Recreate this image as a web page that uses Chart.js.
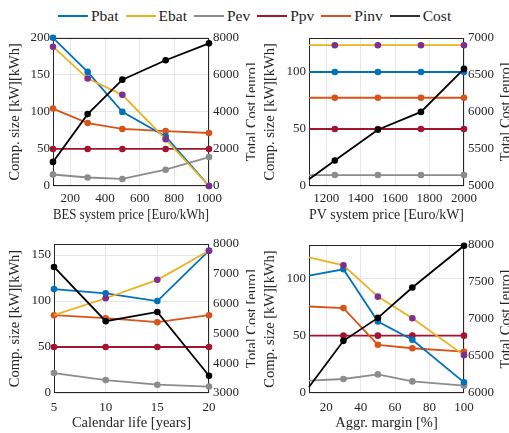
<!DOCTYPE html>
<html><head><meta charset="utf-8">
<script src="https://cdn.jsdelivr.net/npm/chart.js@4.4.0/dist/chart.umd.min.js"></script>
<style>
body{margin:0;width:509px;height:433px;background:#fff;position:relative;overflow:hidden;font-family:"Liberation Serif",serif}
canvas{position:absolute}
#legend{position:absolute;top:6px;left:58px;display:flex;align-items:center;font-size:15.5px;color:#222;white-space:nowrap;height:20px}
#legend .it{display:flex;align-items:center;margin-right:7px}
#legend .ln{display:inline-block;width:30px;height:2px;margin-right:3px}
</style></head>
<body>
<div id="legend"></div>
<canvas id="c1" width="255" height="204" style="left:0;top:26px"></canvas>
<canvas id="c2" width="254" height="204" style="left:255px;top:26px"></canvas>
<canvas id="c3" width="255" height="201" style="left:0;top:232px"></canvas>
<canvas id="c4" width="254" height="201" style="left:255px;top:232px"></canvas>
<script>
// ---- data ----
const seriesNames = ["Pbat","Ebat","Pev","Ppv","Pinv","Cost"];

// Plot 1: BES system price
const x1 = [100,300,500,750,1000];
const pbat1 = [200,154,100,67,0];
const ebat1 = [188,145,123,63,0];
const pev1  = [15.5,11.5,9.5,22,39];
const ppv1  = [50,50,50,50,50];
const pinv1 = [104.5,85,77,74,71.5];
const cost1 = [1300,3880,5740,6790,7700];
const xTicks1 = [200,400,600,800,1000];
const yTicksL1 = [0,50,100,150,200];
const yTicksR1 = [0,2000,4000,6000,8000];

// Plot 2: PV system price
const x2 = [1100,1250,1500,1750,2000];
const pbat2 = [100,100,100,100,100];
const ebat2 = [123.5,123.5,123.5,123.5,123.5];
const pev2  = [9.6,9.6,9.6,9.6,9.6];
const ppv2  = [50,50,50,50,50];
const pinv2 = [77.4,77.4,77.4,77.4,77.4];
const cost2 = [5090,5345,5760,6000,6580];
const xTicks2 = [1200,1400,1600,1800,2000];
const yTicksL2 = [0,50,100];
const yTicksR2 = [5000,5500,6000,6500,7000];

// Plot 3: Calendar life
const x3 = [5,10,15,20];
const pbat3 = [113,108.4,100,154.7];
const ebat3 = [84.6,103,123,154.7];
const pev3  = [21.7,14,9,7];
const ppv3  = [50,50,50,50];
const pinv3 = [84.6,81.3,77,84.6];
const cost3 = [7230,5410,5720,3580];
const xTicks3 = [5,10,15,20];
const yTicksL3 = [0,50,100,150];
const yTicksR3 = [3000,4000,5000,6000,7000,8000];

// Plot 4: Aggr. margin
const x4 = [10,30,50,70,100];
const pbat4 = [102.3,107.8,62.3,46.4,9.3];
const ebat4 = [118.3,111.3,84,65.2,33];
const pev4  = [10.7,12.2,16.2,10.1,6.4];
const ppv4  = [50,50,50,50,50];
const pinv4 = [75.4,74,42,39,36];
const cost4 = [6080,6705,7015,7425,7990];
const xTicks4 = [20,40,60,80,100];
const yTicksL4 = [0,50,100];
const yTicksR4 = [6000,6500,7000,7500,8000];

// ---- styles ----
const colors = {Pbat:'#0072BD',Ebat:'#EDB120',Pev:'#8c8c8c',Ppv:'#A2142F',Pinv:'#D95319',Cost:'#000000'};
const markerColors = {Pbat:'#0072BD',Ebat:'#7E2F8E',Pev:'#8c8c8c',Ppv:'#A2142F',Pinv:'#D95319',Cost:'#000000'};
const drawOrder = {Cost:0,Ebat:1,Pbat:2,Pinv:3,Ppv:4,Pev:5};
const FONT = '"Liberation Serif", serif';
Chart.defaults.font.family = FONT;

// legend
const lg = document.getElementById('legend');
seriesNames.forEach(n=>{
  const it=document.createElement('span');it.className='it';
  const ln=document.createElement('span');ln.className='ln';ln.style.background=colors[n]==='#000000'?'#333':colors[n];
  it.appendChild(ln);it.appendChild(document.createTextNode(n));lg.appendChild(it);
});

const framePlugin = {
  id:'frame',
  beforeDatasetsDraw(chart){
    const {ctx, chartArea:a} = chart;
    ctx.save();ctx.strokeStyle='#262626';ctx.lineWidth=1;
    ctx.strokeRect(Math.round(a.left)+0.5, Math.round(a.top)+0.5, Math.round(a.right-a.left)-1, Math.round(a.bottom-a.top)-1);
    ctx.restore();
  },
  afterDraw(chart){
    const {ctx, chartArea:a} = chart;
    const t = chart.options.plugins.frame.rightTitle;
    ctx.save();
    ctx.font = '14.5px '+FONT;ctx.fillStyle='#262626';
    ctx.textAlign='center';ctx.textBaseline='middle';
    ctx.translate(chart.width-3,(a.top+a.bottom)/2);
    ctx.rotate(-Math.PI/2);
    ctx.fillText(t,0,0);
    ctx.restore();
  }
};

function makeChart(id, p){
  const sets = [p.pbat,p.ebat,p.pev,p.ppv,p.pinv,p.cost];
  const datasets = seriesNames.map((n,i)=>({
    label:n,
    data:p.x.map((xv,j)=>({x:xv,y:sets[i][j]})),
    yAxisID: n==='Cost'?'yR':'yL',
    borderColor:colors[n],
    backgroundColor:markerColors[n],
    pointBackgroundColor:markerColors[n],
    pointBorderColor:markerColors[n],
    borderWidth:1.8,
    pointRadius: c => ((p.noFirst || (p.hideFirst||[]).includes(n)) && c.dataIndex===0) ? 0 : 3.3,
    pointBorderWidth:0,
    order:drawOrder[n],
    tension:0,
    clip:false
  }));
  const tickFont = {family:FONT,size:13};
  const titleFont = {family:FONT,size:14.5};
  const gridc = '#e6e6e6';
  const fmt = v => String(v);
  return new Chart(document.getElementById(id),{
    type:'line',
    data:{datasets},
    options:{
      responsive:false,animation:false,
      layout:{padding:{top:p.padTop,left:0,right:0,bottom:0}},
      plugins:{legend:{display:false},tooltip:{enabled:false},frame:{rightTitle:'Total Cost [euro]'}},
      scales:{
        x:{type:'linear',min:p.xmin,max:p.xmax,
          afterBuildTicks:s=>{s.ticks=p.xt.map(v=>({value:v}));},
          grid:{color:gridc,drawTicks:false},border:{display:false},
          ticks:{font:tickFont,color:'#262626',padding:p.xTickPad,maxRotation:0,autoSkip:false,callback:fmt},
          title:{display:true,text:p.xtitle,font:titleFont,color:'#262626',padding:{top:0,bottom:p.xTitlePad}},
          afterFit:s=>{s.height=p.xH;}
        },
        yL:{type:'linear',position:'left',min:0,max:p.ylmax,
          afterBuildTicks:s=>{s.ticks=p.ylt.map(v=>({value:v}));},
          grid:{color:gridc,drawTicks:false},border:{display:false},
          ticks:{font:tickFont,color:'#262626',padding:3,callback:fmt},
          title:{display:true,text:'Comp. size [kW][kWh]',font:titleFont,color:'#262626',padding:{top:6.3,bottom:0}},
          afterFit:s=>{s.width=p.lW;}
        },
        yR:{type:'linear',position:'right',min:p.yrt[0],max:p.yrt[p.yrt.length-1],
          afterBuildTicks:s=>{s.ticks=p.yrt.map(v=>({value:v}));},
          grid:{display:false,drawTicks:false},border:{display:false},
          ticks:{font:tickFont,color:'#262626',padding:4,callback:fmt},
          afterFit:s=>{s.width=p.rW;}
        }
      }
    },
    plugins:[framePlugin]
  });
}

makeChart('c1',{x:x1,pbat:pbat1,ebat:ebat1,pev:pev1,ppv:ppv1,pinv:pinv1,cost:cost1,
  xmin:100,xmax:1000,xt:xTicks1,ylmax:200,ylt:yTicksL1,yrt:yTicksR1,
  xtitle:'BES system price [Euro/kWh]',padTop:10,xH:44,lW:53,rW:46,xTickPad:5,xTitlePad:6.3});
makeChart('c2',{x:x2,pbat:pbat2,ebat:ebat2,pev:pev2,ppv:ppv2,pinv:pinv2,cost:cost2,
  xmin:1100,xmax:2000,xt:xTicks2,ylmax:130,ylt:yTicksL2,yrt:yTicksR2,noFirst:true,
  xtitle:'PV system price [Euro/kW]',padTop:10,xH:44,lW:54,rW:45,xTickPad:5,xTitlePad:6.3});
makeChart('c3',{x:x3,pbat:pbat3,ebat:ebat3,pev:pev3,ppv:ppv3,pinv:pinv3,cost:cost3,
  xmin:5,xmax:20,xt:xTicks3,ylmax:162,ylt:yTicksL3,yrt:yTicksR3,hideFirst:['Ebat'],
  xtitle:'Calendar life [years]',padTop:12,xH:40,lW:54,rW:46,xTickPad:7,xTitlePad:1.3});
makeChart('c4',{x:x4,pbat:pbat4,ebat:ebat4,pev:pev4,ppv:ppv4,pinv:pinv4,cost:cost4,
  xmin:10,xmax:100,xt:xTicks4,ylmax:129,ylt:yTicksL4,yrt:yTicksR4,noFirst:true,
  xtitle:'Aggr. margin [%]',padTop:13,xH:40,lW:54,rW:45,xTickPad:7,xTitlePad:1.3});
</script>
</body></html>
